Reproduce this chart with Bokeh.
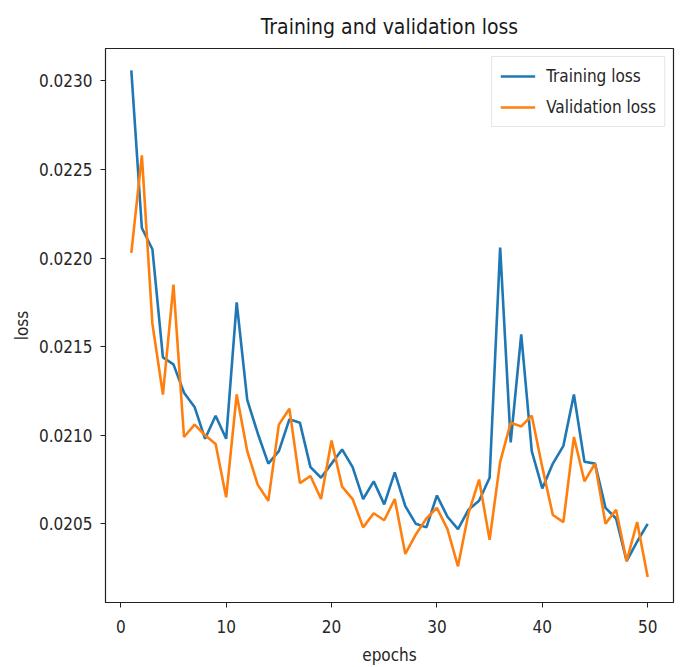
from bokeh.plotting import figure
from bokeh.models import FixedTicker, PrintfTickFormatter, Range1d, Legend, LegendItem
from bokeh.embed import file_html
from bokeh.resources import INLINE

epochs = list(range(1, 51))
training_loss = [0.02306, 0.02217, 0.02205, 0.02144, 0.02140, 0.02124, 0.02116, 0.02098, 0.02111, 0.02098,
                 0.02175, 0.02120, 0.02101, 0.02084, 0.02091, 0.02109, 0.02107, 0.02082, 0.02076, 0.02084,
                 0.02092, 0.02082, 0.02064, 0.02074, 0.02061, 0.02079, 0.02060, 0.02050, 0.02048, 0.02066,
                 0.02054, 0.02047, 0.02058, 0.02063, 0.02076, 0.02206, 0.02096, 0.02157, 0.02091, 0.02070,
                 0.02084, 0.02094, 0.02123, 0.02085, 0.02084, 0.02059, 0.02053, 0.02029, 0.02040, 0.02050]
validation_loss = [0.02203, 0.02258, 0.02163, 0.02123, 0.02185, 0.02099, 0.02106, 0.02100, 0.02095, 0.02065,
                   0.02123, 0.02091, 0.02072, 0.02063, 0.02106, 0.02115, 0.02073, 0.02077, 0.02064, 0.02097,
                   0.02071, 0.02064, 0.02048, 0.02056, 0.02052, 0.02064, 0.02033, 0.02044, 0.02053, 0.02059,
                   0.02047, 0.02026, 0.02056, 0.02075, 0.02041, 0.02085, 0.02107, 0.02105, 0.02111, 0.02082,
                   0.02055, 0.02051, 0.02099, 0.02074, 0.02084, 0.02050, 0.02058, 0.02029, 0.02051, 0.02020]
x_ticks = [0, 10, 20, 30, 40, 50]
y_ticks = [0.0205, 0.0210, 0.0215, 0.0220, 0.0225, 0.0230]
y_limits = [0.020056, 0.023183]
title_text = "Training and validation loss"
x_label = "epochs"
y_label = "loss"
series_names = ["Training loss", "Validation loss"]

FONT = "DejaVu Sans Condensed"

xmin, xmax = min(epochs), max(epochs)
xm = 0.05 * (xmax - xmin)

p = figure(width=683, height=667, output_backend="svg", toolbar_location=None,
           x_range=Range1d(xmin - xm, xmax + xm), y_range=Range1d(y_limits[0], y_limits[1]),
           min_border_left=105, min_border_right=10, min_border_top=48, min_border_bottom=64)

p.title.text = title_text
p.title.align = "center"
p.title.text_font = FONT
p.title.text_font_size = "21px"
p.title.text_font_style = "normal"
p.title.text_color = "#1a1a1a"
p.title.standoff = 19

p.outline_line_color = "#222222"
p.outline_line_width = 1.2
p.grid.visible = False
p.background_fill_color = "white"
p.border_fill_color = "white"

for ax in (p.xaxis[0], p.yaxis[0]):
    ax.axis_line_color = "#222222"
    ax.major_tick_line_color = "#222222"
    ax.major_tick_out = 5
    ax.major_tick_in = 0
    ax.minor_tick_line_color = None
    ax.major_label_text_font = FONT
    ax.major_label_text_font_size = "17px"
    ax.major_label_text_color = "#262626"
    ax.axis_label_text_font = FONT
    ax.axis_label_text_font_size = "17px"
    ax.axis_label_text_font_style = "normal"
    ax.axis_label_text_color = "#262626"

p.xaxis.major_label_standoff = 12
p.yaxis.major_label_standoff = 8
p.xaxis.ticker = FixedTicker(ticks=x_ticks)
p.yaxis.ticker = FixedTicker(ticks=y_ticks)
p.yaxis.formatter = PrintfTickFormatter(format="%.4f")
p.xaxis.axis_label = x_label
p.yaxis.axis_label = y_label
p.xaxis.axis_label_standoff = 9
p.yaxis.axis_label_standoff = 4

r1 = p.line(epochs, training_loss, line_color="#1f77b4", line_width=2.6)
r2 = p.line(epochs, validation_loss, line_color="#ff7f0e", line_width=2.6)

legend = Legend(items=[LegendItem(label=series_names[0], renderers=[r1]),
                       LegendItem(label=series_names[1], renderers=[r2])],
                location="top_right", margin=8, padding=8, spacing=9,
                glyph_width=35, glyph_height=22, label_height=22, label_standoff=11,
                label_text_font=FONT, label_text_font_size="17px", label_text_color="#262626",
                border_line_color="#cccccc", border_line_width=1.2,
                background_fill_color="white", background_fill_alpha=0.8)
p.add_layout(legend)

open("out.html", "w").write(file_html(p, INLINE))
